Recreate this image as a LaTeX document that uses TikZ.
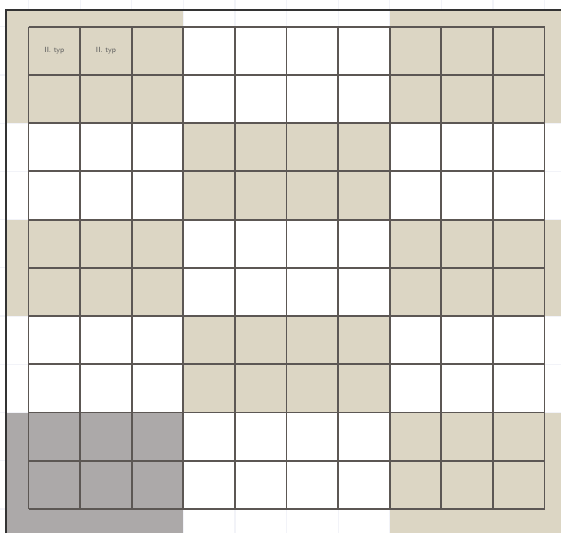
\documentclass[tikz,border=0pt]{standalone}
\usepackage{tikz}

\definecolor{sand}{RGB}{220,214,196}
\definecolor{slate}{RGB}{172,169,169}
\definecolor{rule}{RGB}{92,87,84}
\definecolor{faint}{RGB}{242,243,248}

\begin{document}
\begin{tikzpicture}[x=1pt, y=-1pt,
  gridline/.style={draw=rule, line width=1.8pt},
  frame/.style={draw=black!80, line width=2.4pt},
  ghost/.style={draw=faint, line width=1.2pt},
  tag/.style={font=\fontsize{7.5}{8}\sffamily, text=black!65, inner sep=0pt}]

  \useasboundingbox (0,0) rectangle (561,533);
  \fill[white] (0,0) rectangle (561,533);

  % Faint guide lines running out to the edges
  \foreach \x in {28.5,80.1,...,545} \draw[ghost] (\x,0) -- (\x,533);
  \foreach \y in {26.7,74.93,...,510} \draw[ghost] (0,\y) -- (561,\y);

  % Shaded blocks
  \fill[sand] (6,10) rectangle (183.3,123.2);
  \fill[sand] (389.7,10) rectangle (561,123.2);
  \fill[sand] (183.3,123.2) rectangle (389.7,219.6);
  \fill[sand] (6,219.6) rectangle (183.3,316.1);
  \fill[sand] (389.7,219.6) rectangle (561,316.1);
  \fill[sand] (183.3,316.1) rectangle (389.7,412.5);
  \fill[slate] (6,412.5) rectangle (183.3,533);
  \fill[sand] (389.7,412.5) rectangle (561,533);

  % Grid 10 x 10
  \foreach \x in {28.5,80.1,...,545} \draw[gridline] (\x,26.7) -- (\x,509);
  \foreach \y in {26.7,74.93,...,510} \draw[gridline] (28.5,\y) -- (544.5,\y);

  % Outer frame
  \draw[frame] (6,533) -- (6,10) -- (561,10);

  % Cell labels
  \node[tag] (typA) at (54.3,50.8) {II. typ};
  \node[tag] (typB) at (105.9,50.8) {II. typ};

\end{tikzpicture}
\end{document}
